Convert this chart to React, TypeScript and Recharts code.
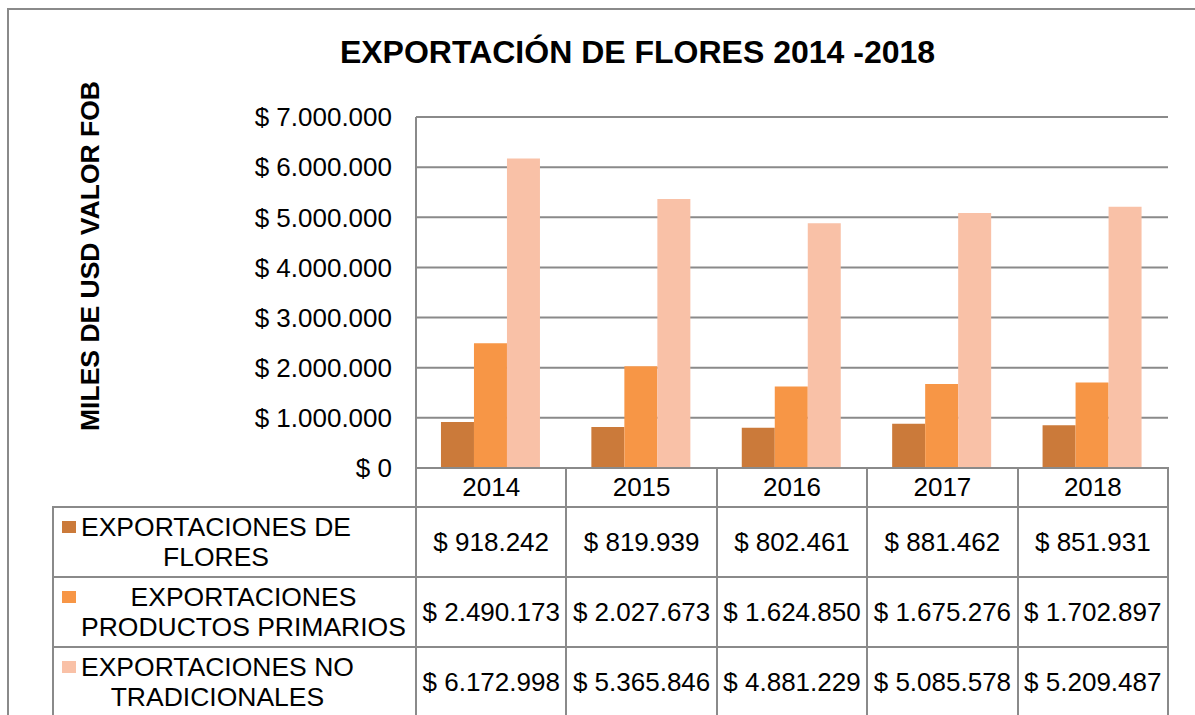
import { BarChart, Bar, XAxis, YAxis, CartesianGrid } from 'recharts'

const years = ['2014', '2015', '2016', '2017', '2018']
const flores = [918242, 819939, 802461, 881462, 851931]
const primarios = [2490173, 2027673, 1624850, 1675276, 1702897]
const noTradicionales = [6172998, 5365846, 4881229, 5085578, 5209487]
const yTicks = [0, 1000000, 2000000, 3000000, 4000000, 5000000, 6000000, 7000000]

const SERIES = [
  { key: 'flores', lines: ['EXPORTACIONES DE', 'FLORES'], color: '#CB7A3A', values: flores },
  { key: 'primarios', lines: ['EXPORTACIONES', 'PRODUCTOS PRIMARIOS'], color: '#F79646', values: primarios },
  { key: 'noTradicionales', lines: ['EXPORTACIONES NO', 'TRADICIONALES'], color: '#F9C1A7', values: noTradicionales },
]

const FONT = '"Liberation Sans", Arial, sans-serif'
const LINE = '#8a8a8a'

// plot box in page pixels
const PLOT_LEFT = 416
const PLOT_RIGHT = 1168
const PLOT_TOP = 117
const PLOT_BOTTOM = 468
const HEADER_H = 39
const ROW_H = 70
const TABLE_LEFT = 53

const fmt = (v: number) => '$ ' + String(v).replace(/\B(?=(\d{3})+(?!\d))/g, '.')

const data = years.map((year, i) => ({
  year,
  flores: flores[i],
  primarios: primarios[i],
  noTradicionales: noTradicionales[i],
}))

const colW = (PLOT_RIGHT - PLOT_LEFT) / years.length
const colX = (i: number) => PLOT_LEFT + i * colW

function Cell({ x0, x1, y0, y1, children, style }: any) {
  return (
    <div
      style={{
        position: 'absolute',
        left: x0 - 1,
        top: y0 - 1,
        width: x1 - x0 + 2,
        height: y1 - y0 + 2,
        border: `2px solid ${LINE}`,
        boxSizing: 'border-box',
        display: 'flex',
        alignItems: 'center',
        justifyContent: 'center',
        ...style,
      }}
    >
      {children}
    </div>
  )
}

export default function App() {
  const rowTop = PLOT_BOTTOM + HEADER_H

  return (
    <div
      style={{
        position: 'absolute',
        left: 0,
        top: 0,
        width: 1195,
        height: 715,
        overflow: 'hidden',
        background: '#fff',
        fontFamily: FONT,
        color: '#000',
      }}
    >
      {/* outer chart frame */}
      <div
        style={{
          position: 'absolute',
          left: 7,
          top: 8,
          width: 1300,
          height: 800,
          border: `2px solid ${LINE}`,
        }}
      />

      <div
        style={{
          position: 'absolute',
          left: 0,
          width: 1275,
          top: 36,
          textAlign: 'center',
          fontWeight: 'bold',
          fontSize: 32,
          lineHeight: '32px',
          whiteSpace: 'nowrap',
        }}
      >
        EXPORTACIÓN DE FLORES 2014 -2018
      </div>

      <div
        style={{
          position: 'absolute',
          left: 90,
          top: 256,
          transform: 'translate(-50%, -50%) rotate(-90deg)',
          fontWeight: 'bold',
          fontSize: 26.5,
          lineHeight: '26px',
          whiteSpace: 'nowrap',
        }}
      >
        MILES DE USD VALOR FOB
      </div>

      {/* data table under the axis */}
      {years.map((y, i) => (
        <Cell key={'h' + y} x0={colX(i)} x1={colX(i + 1)} y0={PLOT_BOTTOM} y1={rowTop} />
      ))}
      {SERIES.map((s, r) => {
        const y0 = rowTop + r * ROW_H
        const y1 = y0 + ROW_H
        return (
          <div key={s.key}>
            <Cell x0={TABLE_LEFT} x1={PLOT_LEFT} y0={y0} y1={y1} style={{ justifyContent: 'flex-start', paddingLeft: 8 }}>
              <div style={{ display: 'flex', alignItems: 'flex-start' }}>
                <div style={{ width: 14, height: 12, background: s.color, marginTop: 9, marginRight: 5 }} />
                <div style={{ textAlign: 'center', fontSize: 26.5, lineHeight: '30px', whiteSpace: 'nowrap' }}>
                  {s.lines[0]}
                  <br />
                  {s.lines[1]}
                </div>
              </div>
            </Cell>
            {s.values.map((v, i) => (
              <Cell key={i} x0={colX(i)} x1={colX(i + 1)} y0={y0} y1={y1}>
                <span style={{ fontSize: 26, whiteSpace: 'nowrap' }}>{fmt(v)}</span>
              </Cell>
            ))}
          </div>
        )
      })}

      <div style={{ position: 'absolute', left: 0, top: 0 }}>
        <BarChart
          width={1195}
          height={715}
          data={data}
          margin={{ top: PLOT_TOP, right: 1195 - PLOT_RIGHT, bottom: 715 - PLOT_BOTTOM - HEADER_H, left: 0 }}
          barCategoryGap="16.6%"
          barGap={0}
        >
          <CartesianGrid vertical={false} stroke={LINE} strokeWidth={2} />
          <XAxis
            dataKey="year"
            height={HEADER_H}
            axisLine={{ stroke: LINE, strokeWidth: 2 }}
            tickLine={false}
            tickSize={8}
            tickMargin={2}
            tick={{ fill: '#000', fontSize: 26, fontFamily: FONT }}
          />
          <YAxis
            width={PLOT_LEFT}
            domain={[0, 7000000]}
            ticks={yTicks}
            interval={0}
            axisLine={{ stroke: LINE, strokeWidth: 2 }}
            tickLine={false}
            tickSize={24}
            tickMargin={0}
            tickFormatter={fmt}
            tick={{ fill: '#000', fontSize: 26, fontFamily: FONT }}
          />
          {SERIES.map((s) => (
            <Bar key={s.key} dataKey={s.key} fill={s.color} isAnimationActive={false} />
          ))}
        </BarChart>
      </div>
    </div>
  )
}
